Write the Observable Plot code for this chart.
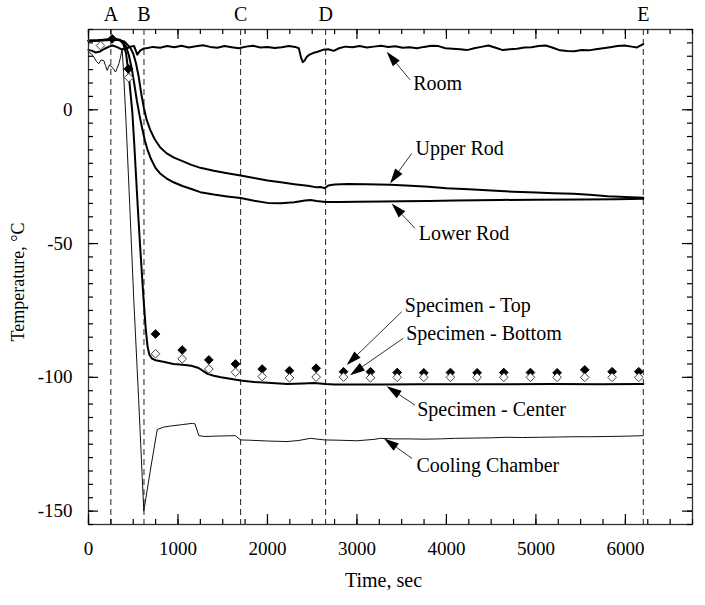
<!DOCTYPE html>
<html>
<head>
<meta charset="utf-8">
<script src="https://cdn.jsdelivr.net/npm/d3@7"></script>
<script src="https://cdn.jsdelivr.net/npm/@observablehq/plot@0.6"></script>
<style>
  html, body { margin: 0; padding: 0; background: #fff; }
</style>
</head>
<body>
<div id="chart"></div>
<script>
// ---- series: [time (s), temperature (°C)] ----
const room = [[0,22.4],[40,22.0],[80,21.4],[130,21.8],[180,22.8],[230,23.6],[270,24.0],[320,23.4],[370,22.6],[420,22.8],[470,23.6],[510,23.8],[545,20.6],[580,22.2],[620,22.9],[660,23.1],[720,23.5],[800,23.2],[880,23.8],[960,23.4],[1040,23.9],[1120,23.3],[1200,23.7],[1280,24.1],[1360,23.5],[1440,23.2],[1520,23.8],[1600,23.4],[1680,23.0],[1760,23.6],[1840,23.9],[1920,23.3],[2000,23.5],[2080,23.1],[2160,23.4],[2240,23.8],[2310,23.5],[2350,23.0],[2375,19.5],[2395,17.8],[2415,18.4],[2440,19.8],[2470,20.6],[2510,21.2],[2560,21.7],[2620,22.4],[2680,22.6],[2740,22.0],[2800,23.0],[2870,23.6],[2950,23.4],[3030,23.8],[3110,23.3],[3190,23.6],[3270,23.9],[3350,23.5],[3430,23.7],[3510,23.2],[3590,23.4],[3670,23.0],[3750,23.5],[3830,23.9],[3910,23.8],[3990,23.0],[4070,22.8],[4150,22.6],[4230,22.3],[4310,23.0],[4390,23.5],[4470,24.0],[4550,23.2],[4630,22.3],[4710,22.6],[4790,22.8],[4870,23.3],[4950,23.4],[5030,23.8],[5110,24.0],[5190,23.2],[5270,22.2],[5350,22.0],[5430,21.9],[5510,22.3],[5590,22.2],[5670,22.6],[5750,23.0],[5830,23.4],[5910,23.8],[5990,24.0],[6070,23.6],[6130,23.3],[6200,24.5]];

const upperRod = [[0,25.8],[100,25.8],[200,26],[300,26.2],[350,26],[400,25.5],[430,24.5],[470,23],[500,21],[530,17.5],[560,12.5],[590,6],[620,0.5],[650,-3.8],[690,-7.5],[740,-11],[800,-14],[870,-16.2],[950,-17.8],[1050,-19.2],[1150,-20.6],[1250,-21.7],[1400,-22.8],[1550,-23.7],[1700,-24.6],[1850,-25.5],[2000,-26.4],[2150,-27.1],[2300,-27.8],[2450,-28.4],[2550,-29],[2600,-28.9],[2640,-29.3],[2680,-28.3],[2750,-27.9],[2900,-27.7],[3100,-27.8],[3375,-28],[3600,-28.4],[3800,-28.8],[4000,-29.3],[4250,-29.7],[4500,-30.2],[4750,-30.6],[5000,-30.9],[5200,-31.2],[5420,-31.4],[5600,-31.8],[5800,-32.3],[6000,-32.6],[6200,-32.9]];

const lowerRod = [[0,25.8],[100,25.9],[200,26.2],[300,26.4],[350,26],[390,25],[420,23.5],[450,20.5],[480,16],[510,10],[540,3.5],[570,-2],[600,-7],[630,-11.5],[660,-15],[700,-18.5],[750,-21.8],[800,-23.8],[870,-25.6],[950,-27.1],[1050,-28.5],[1150,-29.6],[1250,-30.8],[1400,-31.7],[1550,-32.4],[1700,-33],[1850,-34],[2000,-34.8],[2150,-34.9],[2300,-34.6],[2420,-33.9],[2480,-33.7],[2550,-34.1],[2650,-34.5],[2800,-34.5],[3000,-34.4],[3300,-34.3],[3500,-34.2],[3800,-34.1],[4100,-33.9],[4600,-33.7],[5000,-33.6],[5500,-33.5],[5900,-33.4],[6200,-33.3]];

const specimenCenter = [[0,25.8],[100,26],[200,26.3],[300,26.5],[350,26.2],[390,24.5],[420,21],[450,13],[470,6],[490,-1],[510,-12],[530,-24],[550,-36],[575,-50],[600,-63],[620,-73],[640,-82],[660,-88.5],[680,-91.5],[710,-93],[750,-93.6],[850,-94.3],[950,-95],[1050,-95.3],[1150,-95.7],[1230,-96.5],[1280,-97.6],[1330,-98.7],[1400,-99.4],[1480,-100],[1600,-100.6],[1700,-101.2],[1850,-101.7],[2000,-102],[2220,-102.5],[2400,-102.3],[2520,-102.1],[2650,-102.5],[2750,-102.7],[3000,-102.7],[3300,-102.7],[3700,-102.6],[4200,-102.6],[4700,-102.6],[5200,-102.5],[5700,-102.6],[6200,-102.5]];

const coolingChamber = [[0,21.5],[30,21],[60,19.7],[90,18],[115,17.2],[140,18.6],[171,18.4],[190,16.5],[209,14.7],[235,16.8],[265,15.9],[285,15],[302,14.1],[320,15.5],[339,17.2],[358,19.7],[376,22.8],[392,14],[420,-5],[460,-35],[506,-71],[560,-108],[600,-137],[618,-150],[690,-135],[768,-119.5],[840,-118.6],[916,-118.2],[1040,-117.7],[1160,-117.2],[1190,-117.4],[1233,-121.8],[1300,-122.1],[1400,-122],[1500,-121.9],[1640,-121.8],[1700,-123.4],[1800,-123.5],[2000,-123.8],[2219,-124],[2350,-123.6],[2480,-122.8],[2641,-123.4],[2800,-123.5],[3000,-123.7],[3189,-123.2],[3263,-122.8],[3400,-123],[3561,-123],[3750,-123.1],[3933,-123],[4100,-122.8],[4306,-122.7],[4500,-122.6],[4679,-122.4],[4850,-122.5],[5051,-122.4],[5250,-122.3],[5424,-122.2],[5600,-122.2],[5796,-122.1],[6000,-122],[6200,-121.8]];

// discrete thermocouple readings (diamonds)
const specimenTop = [[265,26.5],[445,15.3],[749,-83.8],[1047,-89.8],[1345,-93.5],[1643,-95],[1941,-96.9],[2246,-97.5],[2544,-96.6],[2850,-97.9],[3151,-97.9],[3450,-98.2],[3747,-98.3],[4045,-98.2],[4343,-98.3],[4641,-98.2],[4939,-98.2],[5237,-98.3],[5546,-97.2],[5852,-97.9],[6150,-97.9]];
const specimenBottom = [[134,24],[450,12],[749,-91.2],[1047,-93.1],[1345,-96.9],[1643,-98.1],[1941,-99.7],[2246,-100.2],[2544,-99.9],[2850,-99.9],[3151,-100.2],[3450,-100],[3747,-100],[4045,-100],[4343,-100],[4641,-100],[4939,-100],[5237,-100],[5546,-100],[5852,-100],[6150,-100]];

// event markers
const eventTimes = [250, 620, 1700, 2650, 6200];
const eventLabels = ["A", "B", "C", "D", "E"];

// ticks
const xDomain = [0, 6750];
const yDomain = [-155, 30];
const xMajorTicks = [0, 1000, 2000, 3000, 4000, 5000, 6000];
const xMinorTicks = d3.range(0, 6751, 250);
const yMajorTicks = [-150, -100, -50, 0];
const yMinorTicks = d3.range(-155, 31, 5);

// annotations: label, text anchor [t, T], arrow tail [t, T], arrow tip [t, T]
const annLabels = ["Room", "Upper Rod", "Lower Rod", "Specimen - Top", "Specimen - Bottom", "Specimen - Center", "Cooling Chamber"];
const annText = [[3628, 9.7], [3654, -14.5], [3691, -46.4], [3535, -73.2], [3550, -83.8], [3673, -112.1], [3665, -133]];
const annTail = [[3599, 11], [3618, -16.5], [3654, -44.5], [3505, -75.7], [3523, -85.6], [3655, -110.6], [3621, -130.5]];
const annTip = [[3338, 21.5], [3375, -27.7], [3394, -35.2], [2891, -95.6], [2928, -99.4], [3338, -103.5], [3308, -123]];

const W = 705, H = 605;
const mL = 88, mR = 13, mT = 29, mB = 81;
const frameW = W - mL - mR, frameH = H - mT - mB;
const axisColor = "#333";
const pxX = (xDomain[1] - xDomain[0]) / frameW;
const pxY = (yDomain[1] - yDomain[0]) / frameH;

function rows(arr) { return arr.map(([t, v]) => ({t, v})); }

function arrowsMark(index, scales) {
  const ns = "http://www.w3.org/2000/svg";
  const g = document.createElementNS(ns, "g");
  const L = 15, w = 4.5;
  for (let i = 0; i < annLabels.length; i++) {
    const x0 = scales.x(annTail[i][0]), y0 = scales.y(annTail[i][1]);
    const x1 = scales.x(annTip[i][0]), y1 = scales.y(annTip[i][1]);
    const dx = x1 - x0, dy = y1 - y0, len = Math.hypot(dx, dy);
    const ux = dx / len, uy = dy / len;
    const bx = x1 - ux * L, by = y1 - uy * L;
    const nx = -uy, ny = ux;
    const line = document.createElementNS(ns, "line");
    line.setAttribute("x1", x0); line.setAttribute("y1", y0);
    line.setAttribute("x2", bx); line.setAttribute("y2", by);
    line.setAttribute("stroke", "#333"); line.setAttribute("stroke-width", 1);
    g.appendChild(line);
    const head = document.createElementNS(ns, "path");
    head.setAttribute("d", `M${x1},${y1}L${bx + nx * w},${by + ny * w}L${bx - nx * w},${by - ny * w}Z`);
    head.setAttribute("fill", "#000");
    g.appendChild(head);
  }
  return g;
}

const tickStyle = {stroke: "#000", strokeWidth: 1.2};

const chart = Plot.plot({
  width: W,
  height: H,
  marginLeft: mL,
  marginRight: mR,
  marginTop: mT,
  marginBottom: mB,
  style: {fontFamily: "'Liberation Serif', 'Times New Roman', serif", fontSize: "19px", background: "#fff", color: "#000"},
  x: {domain: xDomain, label: null},
  y: {domain: yDomain, label: null},
  marks: [
    Plot.axisX({ticks: xMajorTicks, tickSize: 0, tickPadding: 17, tickFormat: d => String(d), label: null, fontSize: 19}),
    Plot.axisY({ticks: yMajorTicks, tickSize: 0, tickPadding: 16, tickFormat: d => String(d), label: null, fontSize: 19}),
    // event lines
    Plot.ruleX(eventTimes, {stroke: "#222", strokeWidth: 1, strokeDasharray: "6,4"}),
    Plot.text(eventLabels, {x: (d, i) => eventTimes[i], text: d => d, frameAnchor: "top", lineAnchor: "middle", dy: -15, fontSize: 20}),
    // series
    Plot.line(rows(coolingChamber), {x: "t", y: "v", stroke: "#111", strokeWidth: 1}),
    Plot.line(rows(specimenCenter), {x: "t", y: "v", stroke: "#000", strokeWidth: 2}),
    Plot.line(rows(lowerRod), {x: "t", y: "v", stroke: "#000", strokeWidth: 2}),
    Plot.line(rows(upperRod), {x: "t", y: "v", stroke: "#000", strokeWidth: 2}),
    Plot.line(rows(room), {x: "t", y: "v", stroke: "#000", strokeWidth: 2}),
    Plot.dot(rows(specimenTop), {x: "t", y: "v", symbol: "diamond2", r: 3.9, fill: "#000", stroke: "#000", strokeWidth: 1}),
    Plot.dot(rows(specimenBottom), {x: "t", y: "v", symbol: "diamond2", r: 3.9, fill: "#fff", stroke: "#444", strokeWidth: 1}),
    // annotations
    arrowsMark,
    Plot.text(annLabels, {x: (d, i) => annText[i][0], y: (d, i) => annText[i][1], text: d => d, textAnchor: "start", fontSize: 20, fill: "#000"}),
    // axis titles
    Plot.text(["Time, sec"], {frameAnchor: "bottom", lineAnchor: "middle", dy: 56, dx: -7, text: d => d, fontSize: 20}),
    Plot.text(["Temperature, \u00B0C"], {frameAnchor: "left", textAnchor: "middle", lineAnchor: "middle", rotate: -90, dx: -70, dy: 5, text: d => d, fontSize: 18}),
    Plot.frame({stroke: axisColor, strokeWidth: 1.3}),
    // inner ticks on all four sides
    Plot.ruleX(xMinorTicks, {y1: yDomain[0], y2: yDomain[0] + 5 * pxY, ...tickStyle}),
    Plot.ruleX(xMajorTicks, {y1: yDomain[0], y2: yDomain[0] + 10 * pxY, ...tickStyle}),
    Plot.ruleX(xMinorTicks, {y1: yDomain[1], y2: yDomain[1] - 5 * pxY, ...tickStyle}),
    Plot.ruleX(xMajorTicks, {y1: yDomain[1], y2: yDomain[1] - 10 * pxY, ...tickStyle}),
    Plot.ruleY(yMinorTicks, {x1: xDomain[0], x2: xDomain[0] + 5 * pxX, ...tickStyle}),
    Plot.ruleY(yMajorTicks, {x1: xDomain[0], x2: xDomain[0] + 10 * pxX, ...tickStyle}),
    Plot.ruleY(yMinorTicks, {x1: xDomain[1], x2: xDomain[1] - 5 * pxX, ...tickStyle}),
    Plot.ruleY(yMajorTicks, {x1: xDomain[1], x2: xDomain[1] - 10 * pxX, ...tickStyle})
  ]
});
document.getElementById("chart").appendChild(chart);
</script>
</body>
</html>
